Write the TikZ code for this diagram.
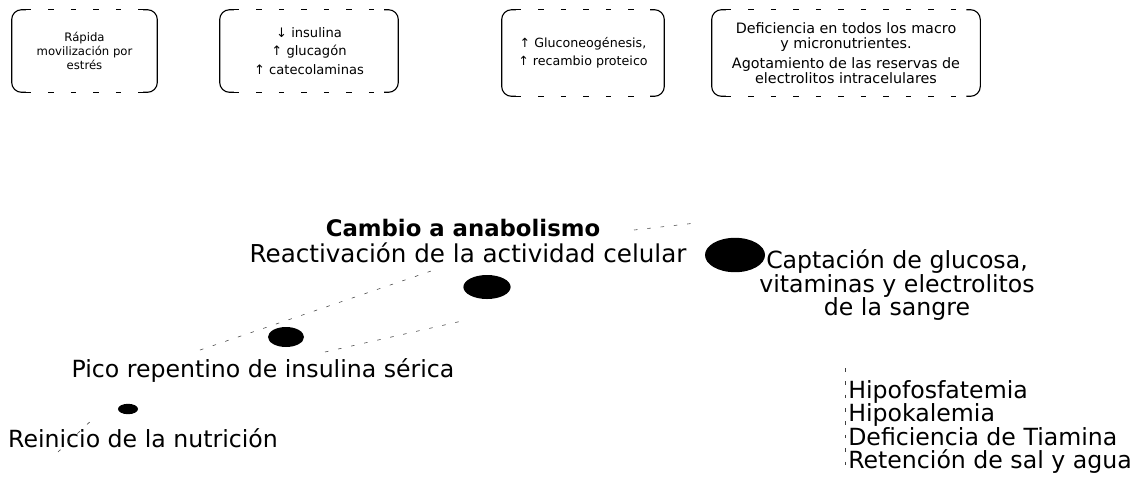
\documentclass[tikz,border=0pt]{standalone}
\usepackage{fontspec}
\setmainfont{DejaVu Sans}
\usetikzlibrary{shapes.geometric, positioning}
\tikzstyle{dot} = [ellipse, fill=black, inner sep=0pt]
\tikzstyle{txt} = [font=\fontsize{16.8}{16.7}\selectfont, align=center, inner sep=0pt]
\tikzstyle{boxtext} = [align=center, inner sep=0pt]
\tikzstyle{faint} = [black!75, thin, dash pattern=on 2.5pt off 7pt]
\tikzstyle{edge} = [black, thick, dash pattern=on 4pt off 12pt]
\tikzstyle{bracket} = [thick, rounded corners=7pt]
\tikzset{every node/.style={align=center}}
% brackets round a box node
\newcommand{\bracketbox}[1]{%
  \draw[bracket] ([xshift=10pt]#1.north west) -- (#1.north west) -- (#1.south west) -- ([xshift=10pt]#1.south west);
  \draw[bracket] ([xshift=-10pt]#1.north east) -- (#1.north east) -- (#1.south east) -- ([xshift=-10pt]#1.south east);
  \draw[edge] ([xshift=10pt]#1.north west) -- ([xshift=-10pt]#1.north east);
  \draw[edge] ([xshift=10pt]#1.south west) -- ([xshift=-10pt]#1.south east);
}

\begin{document}
\begin{tikzpicture}[x=0.025cm, y=-0.025cm]
    \useasboundingbox (0,0) rectangle (1143,476);

    % top boxes
    \node (stress) [boxtext, font=\fontsize{8.3}{9.8}\selectfont, minimum width=3.625cm, minimum height=2.05cm] at (84.5,51) {Rápida\\movilización por\\estrés};
    \node (hormones) [boxtext, font=\fontsize{9.3}{13}\selectfont, minimum width=4.45cm, minimum height=2.05cm] at (309,51) {↓ insulina\\↑ glucagón\\↑ catecolaminas};
    \node (gluco) [boxtext, font=\fontsize{9}{13}\selectfont, minimum width=4.05cm, minimum height=2.15cm] at (583,53) {↑ Gluconeogénesis,\\↑ recambio proteico};
    \node (deficit) [boxtext, font=\fontsize{10.2}{10.8}\selectfont, minimum width=6.7cm, minimum height=2.15cm] at (846,53) {Deficiencia en todos los macro\\y micronutrientes.\\[3.5pt]Agotamiento de las reservas de\\electrolitos intracelulares};
    \bracketbox{stress}
    \bracketbox{hormones}
    \bracketbox{gluco}
    \bracketbox{deficit}

    % dots
    \node (dotstart) [dot, minimum width=0.5cm, minimum height=0.26cm] at (128,409) {};
    \node (dotpeak) [dot, minimum width=0.9cm, minimum height=0.5cm] at (286,337) {};
    \node (dotana) [dot, minimum width=1.18cm, minimum height=0.6cm] at (487,287) {};
    \node (dotuptake) [dot, minimum width=1.5cm, minimum height=0.86cm] at (735,255) {};

    % labels
    \node (cambio) [txt, font=\fontsize{16.2}{16.7}\selectfont\bfseries] at (463,228) {Cambio a anabolismo};
    \node (react) [txt, font=\fontsize{17.5}{16.7}\selectfont] at (468,253) {Reactivación de la actividad celular};
    \node (uptake) [txt] at (897,285) {Captación de glucosa,\\vitaminas y electrolitos\\de la sangre};
    \node (peak) [txt] at (263,370) {Pico repentino de insulina sérica};
    \node (start) [txt] at (143,438) {Reinicio de la nutrición};
    \node (effects) [txt, align=left, anchor=west] at (848,427) {Hipofosfatemia\\Hipokalemia\\Deficiencia de Tiamina\\Retención de sal y agua};

    % faint guide lines
    \coordinate (c1) at (58,452);
    \coordinate (c2) at (96,416);
    \coordinate (c3) at (200,350);
    \coordinate (c4) at (440,268);
    \coordinate (c5) at (325,352);
    \coordinate (c6) at (462,321);
    \coordinate (c7) at (634,230);
    \coordinate (c8) at (696,223);
    \coordinate (c9) at (845,368);
    \coordinate (c10) at (845,472);
    \draw [faint] (c1) -- (c2);
    \draw [faint] (c3) -- (c4);
    \draw [faint] (c5) -- (c6);
    \draw [faint] (c7) -- (c8);
    \draw [faint] (c9) -- (c10);
\end{tikzpicture}
\end{document}
